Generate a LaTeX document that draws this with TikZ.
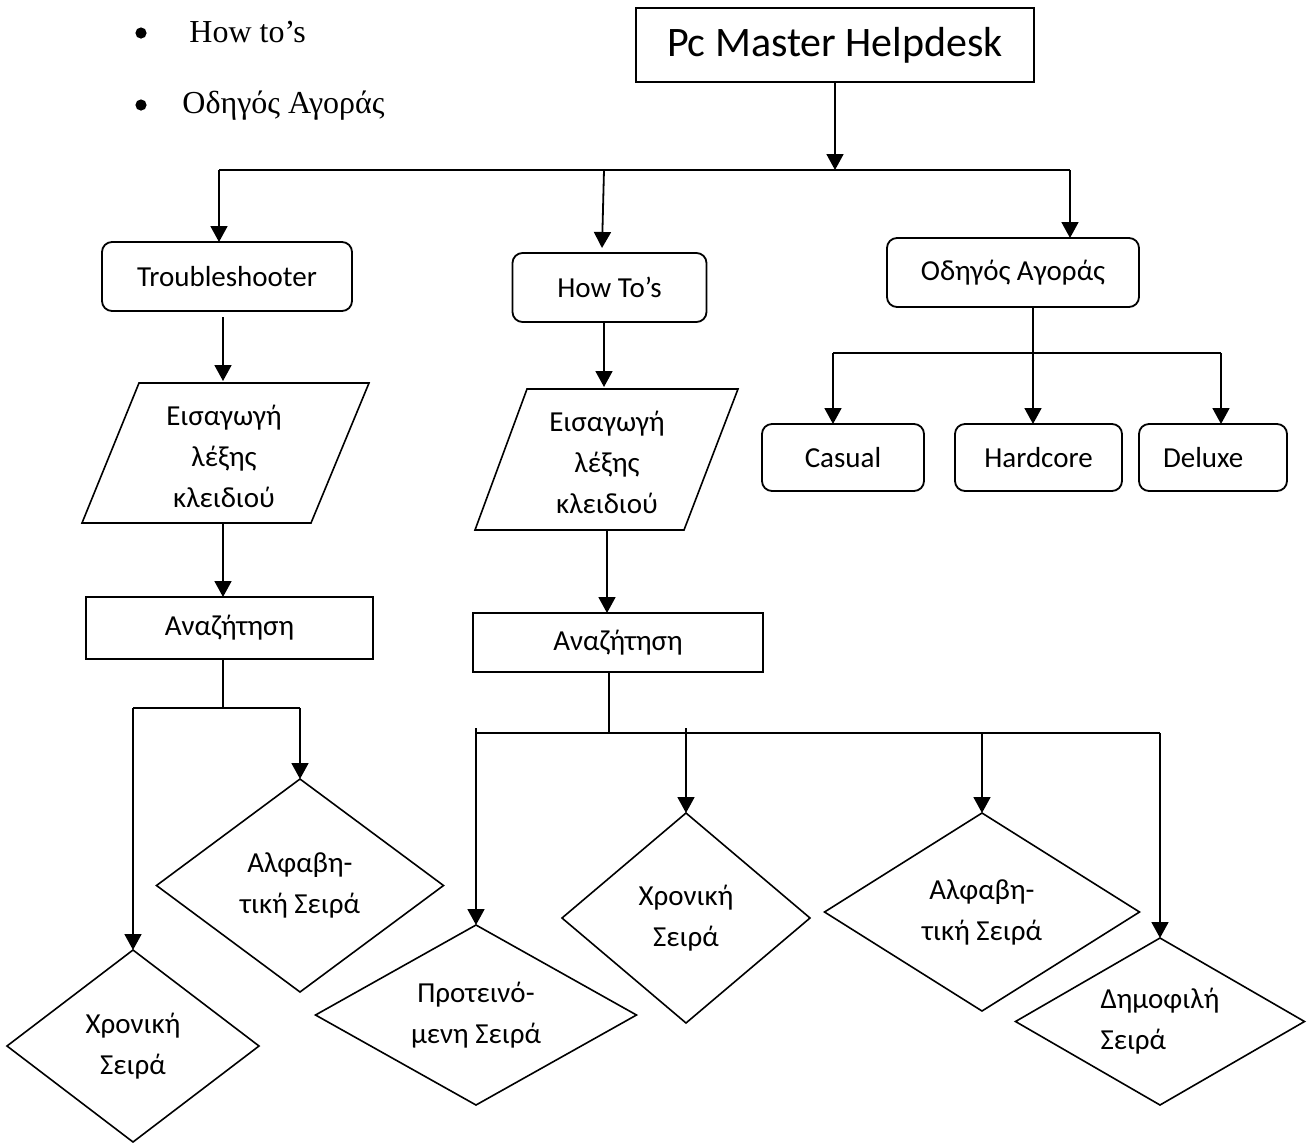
\documentclass[tikz,border=0pt]{standalone}
\usepackage{fontspec}
\setmainfont{Carlito}
\newfontfamily\serifbullets{Liberation Serif}
\usetikzlibrary{shapes.geometric,arrows.meta}

\begin{document}
\begin{tikzpicture}[x=0.5pt,y=-0.5pt,
  every node/.style={font=\fontsize{14.5}{20.5}\selectfont},
  line/.style={line width=0.9pt, black},
  arr/.style={line, -{Triangle[length=8pt,width=8.5pt]}},
  rbox/.style={draw, line width=0.9pt, rounded corners=5pt, inner sep=0pt, outer sep=0pt},
  sbox/.style={draw, line width=0.9pt, inner sep=0pt, outer sep=0pt},
  dia/.style={draw, diamond, line width=0.8pt, inner sep=0pt, outer sep=0pt, align=center},
  para/.style={line width=0.8pt},
  ptext/.style={align=center, inner sep=0pt},
  listdot/.style={circle, fill=black, inner sep=0pt, minimum size=5.6pt},
  listtext/.style={font=\serifbullets\fontsize{16}{19}\selectfont, inner sep=0pt}
]
\useasboundingbox (0,0) rectangle (1307,1142);

% bulleted list at the top left
\node[listdot] (bul1) at (141,33) {};
\node[listtext, anchor=base west] (item1) at (189,42) {How to’s};
\node[listdot] (bul2) at (141,105) {};
\node[listtext, anchor=base west] (item2) at (182,113) {Οδηγός Αγοράς};

% main title box
\node[sbox, minimum width=199pt, minimum height=37pt,
      font=\fontsize{21}{25}\selectfont] (pc) at (835,45) {Pc Master Helpdesk};

% first level
\node[rbox, minimum width=125pt, minimum height=34.5pt] (ts) at (227,276.5) {Troubleshooter};
\node[rbox, minimum width=97pt, minimum height=34.5pt] (ht) at (609.5,287.5) {How To’s};
\node[rbox, minimum width=126pt, minimum height=34.5pt] (og) at (1013,272.5) {Οδηγός Αγοράς};

% buying guide categories
\node[rbox, minimum width=81pt, minimum height=33.5pt] (cas) at (843,457.5) {Casual};
\node[rbox, minimum width=83.5pt, minimum height=33.5pt] (hard) at (1038.5,457.5) {Hardcore};
\node[rbox, minimum width=74pt, minimum height=33.5pt, text width=50pt, align=left, inner xsep=12pt] (dlx) at (1213,457.5) {Deluxe};

% keyword input (parallelograms)
\draw[para] (139,383) -- (369,383) -- (311,523) -- (82,523) -- cycle;
\node[ptext] (p1) at (224,456) {Εισαγωγή\\λέξης\\κλειδιού};
\draw[para] (527,389) -- (738,389) -- (684,530) -- (475,530) -- cycle;
\node[ptext] (p2) at (607,462) {Εισαγωγή\\λέξης\\κλειδιού};
\coordinate (p1n) at (223,381);
\coordinate (p1s) at (223,523);
\coordinate (p2n) at (604,387);
\coordinate (p2s) at (607,530);

% search boxes
\node[sbox, minimum width=143.5pt, minimum height=31pt] (s1) at (229.5,628) {Αναζήτηση};
\node[sbox, minimum width=145pt, minimum height=29.5pt] (s2) at (618,642.5) {Αναζήτηση};

% sort orders
\node[dia, minimum width=143.5pt, minimum height=106.5pt, aspect=1.35] (dA1) at (300,885.5) {Αλφαβη-\\τική Σειρά};
\node[dia, minimum width=126pt, minimum height=96pt, aspect=1.3] (dX1) at (133,1046) {Χρονική\\Σειρά};
\node[dia, minimum width=160.5pt, minimum height=90pt, aspect=1.78] (dP) at (476,1015) {Προτεινό-\\μενη Σειρά};
\node[dia, minimum width=124pt, minimum height=105pt, aspect=1.18] (dX2) at (686,918) {Χρονική\\Σειρά};
\node[dia, minimum width=157.5pt, minimum height=99pt, aspect=1.59] (dA2) at (982,912) {Αλφαβη-\\τική Σειρά};
\node[dia, minimum width=144.5pt, minimum height=83.5pt, aspect=1.73, align=left] (dD) at (1160,1021.5) {Δημοφιλή\\Σειρά};

% top distribution bus
\coordinate (bL) at (219,170);
\coordinate (bM) at (604,170);
\coordinate (bR) at (1070,170);
\draw[arr] (pc.south) -- (pc.south |- bL);
\draw[line] (bL) -- (bR);
\draw[arr] (bL) -- (bL |- ts.north);
\draw[arr] (bM) -- ([xshift=-3.75pt,yshift=2.5pt]ht.north);
\draw[arr] (bR) -- (bR |- og.north);

% troubleshooter branch
\draw[arr] ([xshift=-2pt,yshift=-3pt]ts.south) -- (p1n);
\draw[arr] (p1s) -- (p1s |- s1.north);
\coordinate (j1) at (223,708);
\coordinate (j1L) at (133,708);
\coordinate (j1R) at (300,708);
\draw[line] (s1.south -| j1) -- (j1);
\draw[line] (j1L) -- (j1R);
\draw[arr] (j1L) -- (dX1.north);
\draw[arr] (j1R) -- (dA1.north);

% how-to branch
\draw[arr] (ht.south -| p2n) -- (p2n);
\draw[arr] (p2s) -- (p2s |- s2.north);
\coordinate (j2) at (609,733);
\coordinate (j2L) at (476,733);
\coordinate (j2R) at (1160,733);
\coordinate (j2Lt) at (476,728);
\coordinate (j2a) at (686,728);
\coordinate (j2b) at (982,732);
\draw[line] (s2.south -| j2) -- (j2);
\draw[line] (j2L) -- (j2R);
\draw[arr] (j2Lt) -- (dP.north);
\draw[arr] (j2a) -- (dX2.north);
\draw[arr] (j2b) -- (dA2.north);
\draw[arr] (j2R) -- (dD.north);

% buying guide branch
\coordinate (j3) at (1033,353);
\coordinate (j3L) at (833,353);
\coordinate (j3R) at (1221,353);
\draw[arr] (og.south -| j3) -- (j3 |- hard.north);
\draw[line] (j3L) -- (j3R);
\draw[arr] (j3L) -- (j3L |- cas.north);
\draw[arr] (j3R) -- (j3R |- dlx.north);
\end{tikzpicture}
\end{document}
